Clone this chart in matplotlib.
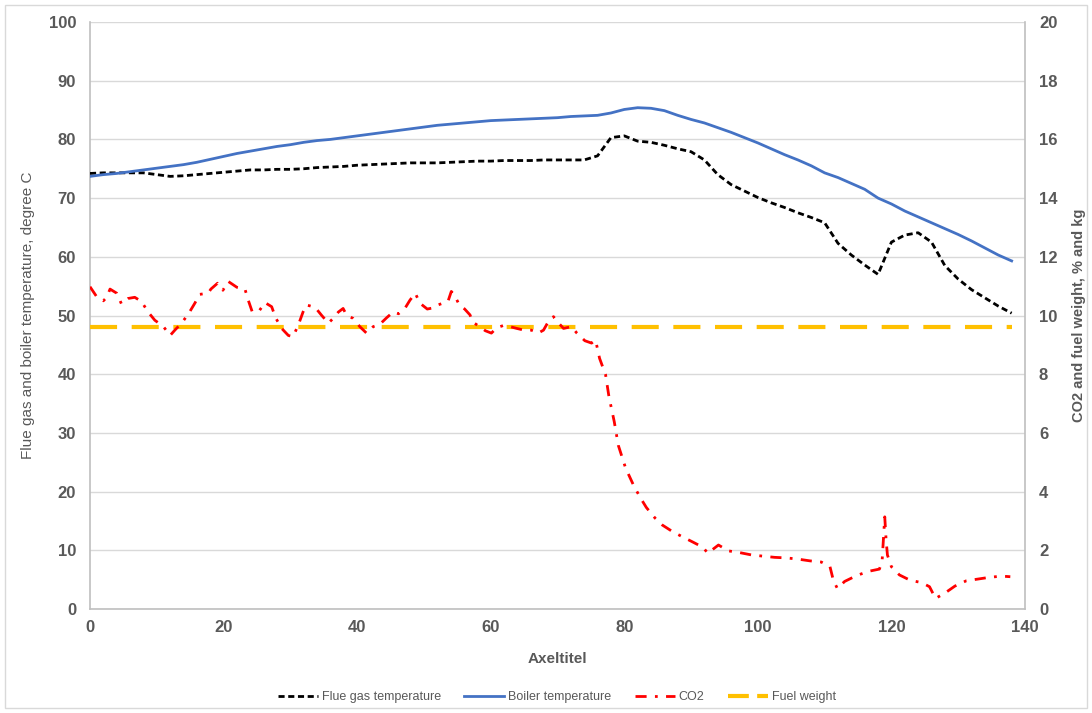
import matplotlib
matplotlib.use("Agg")
import matplotlib.pyplot as plt
from matplotlib.patches import Rectangle

plt.rcParams['font.family'] = ['Liberation Sans', 'DejaVu Sans']

# ---------------- data ----------------
time_x = [0, 2, 4, 6, 8, 10, 12, 14, 16, 18, 20, 22, 24, 26, 28, 30, 32, 34, 36, 38,
          40, 42, 44, 46, 48, 50, 52, 54, 56, 58, 60, 62, 64, 66, 68, 70, 72, 74, 76, 78,
          80, 82, 84, 86, 88, 90, 92, 94, 96, 98, 100, 102, 104, 106, 108, 110, 112, 114,
          116, 118, 120, 122, 124, 126, 128, 130, 132, 134, 136, 138]

flue_gas = [74.2, 74.3, 74.3, 74.3, 74.3, 74.0, 73.7, 73.8, 74.0, 74.2, 74.4, 74.6, 74.8,
            74.8, 74.9, 74.9, 75.0, 75.2, 75.3, 75.4, 75.6, 75.7, 75.8, 75.9, 76.0, 76.0,
            76.0, 76.1, 76.2, 76.3, 76.3, 76.4, 76.4, 76.4, 76.5, 76.5, 76.5, 76.5, 77.2,
            80.3, 80.6, 79.7, 79.5, 79.0, 78.4, 77.9, 76.5, 74.0, 72.3, 71.2, 70.1, 69.2,
            68.4, 67.5, 66.7, 65.8, 62.3, 60.3, 58.6, 57.0, 62.5, 63.7, 64.1, 62.5, 58.5,
            56.2, 54.4, 53.0, 51.6, 50.4]

boiler = [73.7, 74.0, 74.2, 74.5, 74.8, 75.1, 75.4, 75.7, 76.1, 76.6, 77.1, 77.6, 78.0,
          78.4, 78.8, 79.1, 79.5, 79.8, 80.0, 80.3, 80.6, 80.9, 81.2, 81.5, 81.8, 82.1,
          82.4, 82.6, 82.8, 83.0, 83.2, 83.3, 83.4, 83.5, 83.6, 83.7, 83.9, 84.0, 84.1,
          84.5, 85.1, 85.4, 85.3, 84.9, 84.1, 83.4, 82.8, 82.0, 81.2, 80.3, 79.4, 78.4,
          77.4, 76.5, 75.5, 74.3, 73.5, 72.5, 71.5, 70.0, 69.0, 67.8, 66.8, 65.8, 64.8,
          63.8, 62.7, 61.5, 60.3, 59.3]

co2_x = [0, 1, 2, 2.5, 3, 4, 4.7, 5.7, 6.7, 7.7, 8.7, 9.7, 11, 12, 12.7, 13.7, 14.7, 15.7,
         16.4, 17.7, 18.1, 19.1, 19.9, 20.7, 22, 23.2, 23.7, 24.3, 25.4, 26.2, 27.2, 27.8,
         28.7, 29.7, 30.4, 31.2, 31.9, 32.4, 33.7, 34.7, 35.7, 36.4, 37.2, 37.9, 38.4, 39.4,
         40.4, 41.4, 42.4, 43.4, 44.4, 45.4, 46.2, 47.2, 47.9, 48.7, 49.4, 50.5, 51.4, 52.1,
         53.6, 54.1, 54.6, 55.3, 56.1, 56.9, 57.3, 58.3, 59.2, 60.1, 60.9, 61.9, 62.9, 63.9,
         65.0, 66.1, 67.1, 67.9, 68.6, 69.4, 70.1, 70.9, 72.1, 72.9, 74.1, 75.1, 75.7, 76.3,
         77.2, 77.7, 78.5, 79.1, 80.2, 81.5, 82.6, 83.3, 84.6, 85.7, 87.2, 88.7, 90.1, 91.8,
         92.5, 94.1, 95.6, 97.3, 99.1, 100.8, 102.5, 104.3, 106.0, 107.8, 109.5, 110.8,
         111.3, 111.9, 113.0, 114.8, 116.5, 118.2, 118.6, 119.0, 119.2, 119.4, 120.0, 121.2,
         122.8, 124.5, 125.7, 126.6, 128.0, 129.5, 131.2, 133.0, 134.7, 136.5, 137.8]

co2 = [10.98, 10.64, 10.50, 10.62, 10.90, 10.76, 10.40, 10.58, 10.62, 10.48, 10.12, 9.84,
       9.62, 9.32, 9.50, 9.74, 10.04, 10.42, 10.72, 10.76, 10.90, 11.10, 10.86, 11.16,
       10.96, 10.90, 10.52, 10.12, 10.18, 10.44, 10.30, 9.92, 9.56, 9.32, 9.28, 9.68,
       10.12, 10.36, 10.28, 10.00, 9.74, 9.90, 10.12, 10.24, 10.02, 9.90, 9.62, 9.40,
       9.62, 9.70, 9.92, 10.12, 10.06, 10.26, 10.52, 10.76, 10.42, 10.22, 10.26, 10.36,
       10.48, 10.82, 10.68, 10.36, 10.22, 10.02, 9.78, 9.62, 9.48, 9.40, 9.58, 9.66, 9.62,
       9.56, 9.50, 9.50, 9.40, 9.50, 9.78, 9.96, 9.76, 9.56, 9.62, 9.40, 9.14, 9.06, 9.16,
       8.54, 7.98, 7.24, 6.38, 5.58, 4.80, 4.16, 3.72, 3.46, 3.10, 2.86, 2.64, 2.46, 2.30,
       2.10, 1.90, 2.18, 1.98, 1.92, 1.84, 1.80, 1.76, 1.74, 1.70, 1.64, 1.60, 1.44, 0.98,
       0.70, 0.94, 1.14, 1.28, 1.36, 1.62, 3.14, 2.36, 1.84, 1.44, 1.16, 0.98, 0.90, 0.76,
       0.36, 0.54, 0.78, 0.96, 1.02, 1.08, 1.12, 1.10]

fuel_x = [0, 138]
fuel_weight = [9.6, 9.6]

x_ticks = [0, 20, 40, 60, 80, 100, 120, 140]
left_ticks = [0, 10, 20, 30, 40, 50, 60, 70, 80, 90, 100]
right_ticks = [0, 2, 4, 6, 8, 10, 12, 14, 16, 18, 20]

# ---------------- figure ----------------
W, H = 1092, 713
fig = plt.figure(figsize=(W / 100, H / 100), dpi=100)
fig.patch.set_facecolor('white')
fig.patches.append(Rectangle((5 / W, 5 / H), 1 - 10 / W, 1 - 10 / H,
                             transform=fig.transFigure, fill=False,
                             edgecolor='#D9D9D9', linewidth=1))

left, right, top, bottom = 90 / W, 1025 / W, 22 / H, 609 / H
ax = fig.add_axes([left, 1 - bottom, right - left, bottom - top])
ax2 = ax.twinx()

tick_color = '#595959'
grid_color = '#D9D9D9'
spine_color = '#BFBFBF'

l1, = ax.plot(time_x, flue_gas, color='black', lw=2.0, linestyle=(0, (2.2, 1.3)),
              label='Flue gas temperature', zorder=3)
l2, = ax.plot(time_x, boiler, color='#4472C4', lw=2.0, label='Boiler temperature', zorder=3)
l3, = ax2.plot(co2_x, co2, color='#FF0000', lw=2.0, linestyle=(0, (4, 3, 1, 3)),
               label='CO2', zorder=3)
l4, = ax2.plot(fuel_x, fuel_weight, color='#FFC000', lw=3.0, linestyle=(0, (6.5, 3.5)),
               label='Fuel weight', zorder=2)

ax.set_xlim(0, 140)
ax.set_ylim(0, 100)
ax2.set_ylim(0, 20)
ax.set_xticks(x_ticks)
ax.set_yticks(left_ticks)
ax2.set_yticks(right_ticks)

ax.grid(axis='y', color=grid_color, lw=1.0, zorder=0)
ax.set_axisbelow(True)

for a in (ax, ax2):
    a.tick_params(length=0, labelsize=12, labelcolor=tick_color, pad=10)
    for lab in a.get_xticklabels() + a.get_yticklabels():
        lab.set_fontweight('bold')
    a.spines['top'].set_visible(False)
    for s in ('left', 'bottom', 'right'):
        a.spines[s].set_color(spine_color)
        a.spines[s].set_linewidth(1.2)
ax.spines['right'].set_visible(False)
ax2.spines['left'].set_visible(False)
ax2.spines['bottom'].set_visible(False)
ax.tick_params(axis='x', pad=8)

ax.set_xlabel('Axeltitel', fontsize=11, fontweight='bold', color=tick_color, labelpad=12)
ax.set_ylabel('Flue gas and boiler temperature, degree C', fontsize=11,
              color=tick_color)
ax.yaxis.set_label_coords((35 - 90) / 935, 0.5)
ax2.set_ylabel('CO2 and fuel weight, % and kg', fontsize=10.5, fontweight='bold',
               color=tick_color, rotation=90)
ax2.yaxis.set_label_coords((1072 - 90) / 935, 0.5)

leg = fig.legend(handles=[l1, l2, l3, l4], loc='center', ncol=4,
                 bbox_to_anchor=(557 / W, 1 - 697 / H), frameon=False, fontsize=9,
                 labelcolor=tick_color, handlelength=3.2, columnspacing=1.9,
                 handletextpad=0.3)
leg.get_lines()[3].set_linestyle((0, (5, 2)))

fig.savefig('out.png', dpi=100, facecolor='white')
